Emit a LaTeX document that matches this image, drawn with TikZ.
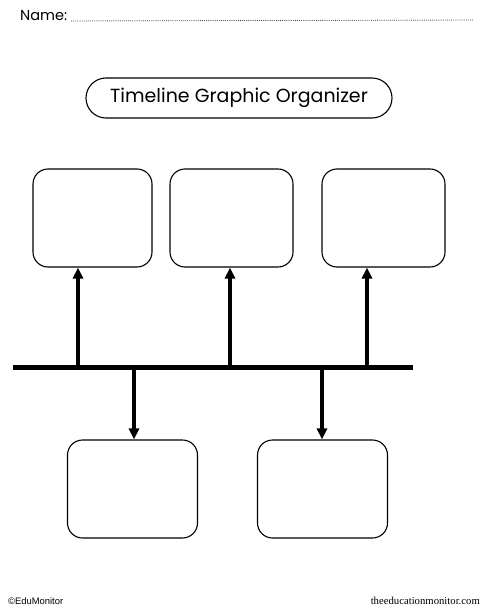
\documentclass[tikz,border=0pt]{standalone}
\usepackage{fontspec}
\setmainfont{Poppins}
\newfontfamily\footsans{Liberation Sans}
\newfontfamily\footserif{Liberation Serif}
\usetikzlibrary{arrows.meta}
\begin{document}
\begin{tikzpicture}[line cap=butt,line join=miter,>={Triangle[width=10pt,length=11pt]},x=1pt,y=-1pt]
	\tikzset{box/.style={draw,line width=1.1pt,rounded corners=15pt,inner sep=0pt,minimum height=98pt},
		stem/.style={->,line width=3.5pt}}
	\useasboundingbox (0,0) rectangle (490,615);
	% header
	\node[anchor=base west,inner sep=0pt,font=\fontsize{14.5}{16}\selectfont] (name) at (20,21) {Name:};
	\coordinate (nameend) at (474,20);
	\draw[line width=0.9pt,line cap=round,dash pattern=on 0pt off 1.9pt] ([xshift=4pt]name.base east) -- (nameend);
	\node[draw,line width=1.1pt,rounded corners=20pt,minimum width=306pt,minimum height=40pt,
		font=\fontsize{19}{22}\selectfont] (title) at (239,98) {Timeline Graphic Organizer};
	% boxes
	\foreach \n/\x/\y/\w in {t1/92.5/218/119,t2/231.5/218/123,t3/383.5/218/123,b1/132.5/489/130,b2/322.5/489/130}{
		\node[box,minimum width=\w pt] (\n) at (\x,\y) {};}
	% timeline
	\coordinate (l) at (13,367);
	\coordinate (r) at (413,367);
	\draw[line width=5pt] (l)--(r);
	\foreach \i/\x in {1/78,2/230,3/367}{
		\coordinate (u\i) at (\x,367);
		\draw[stem] (u\i)--(u\i |- t\i.south);}
	\foreach \i/\x in {1/134,2/322}{
		\coordinate (d\i) at (\x,367);
		\draw[stem] (d\i)--(d\i |- b\i.north);}
	% footer
	\node[anchor=base west,inner sep=0pt,font=\footsans\fontsize{9.4}{11}\selectfont] (copy) at (8,604) {©EduMonitor};
	\node[anchor=base east,inner sep=0pt,font=\footserif\fontsize{10.7}{12}\selectfont] (site) at (480,604) {theeducationmonitor.com};
\end{tikzpicture}
\end{document}
